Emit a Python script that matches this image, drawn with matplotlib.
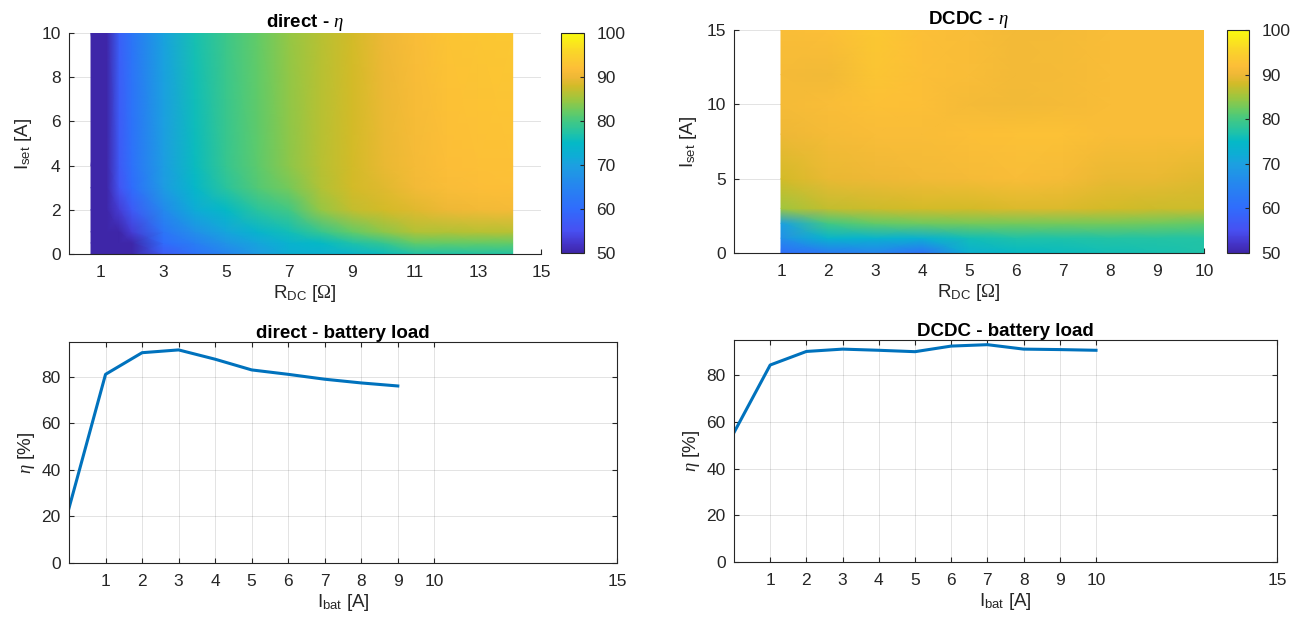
import numpy as np
import matplotlib
matplotlib.use("Agg")
import matplotlib.pyplot as plt
from matplotlib.colors import LinearSegmentedColormap

plt.rcParams['font.family'] = ['Liberation Sans', 'DejaVu Sans']
plt.rcParams['mathtext.fontset'] = 'custom'
plt.rcParams['mathtext.rm'] = 'Liberation Serif'
plt.rcParams['mathtext.it'] = 'Liberation Serif:italic'
plt.rcParams['mathtext.sf'] = 'Liberation Sans'
plt.rcParams['mathtext.bf'] = 'Liberation Sans:bold'

# ---------------- data ----------------
# direct - eta map
R_direct = [0.7, 1.2, 1.6, 2, 3, 4, 5, 6, 7, 8, 9, 10, 11, 12, 13, 14.1]
I_direct = [0, 0.5, 1, 2, 3, 4, 10]
eta_direct = [
    [45, 45, 47, 49, 57, 61, 65, 69, 72.5, 73, 74, 75.5, 77, 77, 77.5, 77.5],
    [45, 45.5, 48, 50, 60, 64, 68, 71, 73.5, 75, 77, 79, 82, 82, 82, 82],
    [45, 46, 50, 53, 62, 67, 71, 74, 76, 79, 82, 84, 86, 86, 86.5, 86.5],
    [45, 47, 53, 57, 66, 72, 75, 78, 80, 84.5, 87, 88, 89, 90, 90.5, 91],
    [45, 48, 56, 60, 69, 74.5, 78, 81, 83, 86, 88, 89, 90.5, 91.5, 91.8, 92],
    [45, 48.5, 57, 61, 69.5, 75.5, 79, 81.5, 84, 86.5, 88, 89.5, 91, 91.8, 92.3, 92.5],
    [45, 49, 58, 62, 70.5, 76.5, 79.5, 82, 84.5, 86.5, 88, 90, 91.5, 92.8, 93.3, 93.5],
]

# DCDC - eta map
R_dcdc = [1, 2, 3, 4, 5, 6, 7, 8, 9, 10]
I_dcdc = [0, 1, 2, 3, 5, 8, 10, 12, 15]
eta_dcdc = [
    [60, 63, 65, 61, 73, 75, 75.5, 76, 76.5, 77],
    [67, 74, 73.5, 73, 76, 77, 77, 77.5, 77.5, 77.5],
    [70, 80, 82, 82.5, 83, 83, 83, 83, 82.5, 82],
    [85, 87, 87.5, 88, 88, 88.5, 88.5, 88, 87.5, 87.5],
    [88, 89.5, 90, 90.5, 91, 91.5, 91, 89.5, 89.5, 89],
    [90, 91, 91.5, 91.5, 92, 92.5, 92.5, 91.5, 91.5, 91.5],
    [91, 91.5, 92.5, 92, 91, 90.5, 91, 91.5, 91.5, 91.5],
    [91, 90.5, 93, 92, 91.5, 90.8, 91, 91.5, 91.5, 91.5],
    [91.5, 92, 93.5, 92, 91.5, 90.8, 91, 91.5, 91.5, 91.5],
]

# battery load curves
I_bat_direct = [0, 1, 2, 3, 4, 5, 6, 7, 8, 9]
eta_bat_direct = [23.6, 81.1, 90.4, 91.6, 87.6, 83.0, 81.1, 79.0, 77.4, 76.1]
I_bat_dcdc = [0, 1, 2, 3, 4, 5, 6, 7, 8, 9, 10]
eta_bat_dcdc = [55.4, 84.3, 90.1, 91.1, 90.6, 90.0, 92.4, 93.0, 91.1, 90.9, 90.6]

# tick labels
xt_direct_map = [1, 3, 5, 7, 9, 11, 13, 15]
yt_direct_map = [0, 2, 4, 6, 8, 10]
xt_dcdc_map = [1, 2, 3, 4, 5, 6, 7, 8, 9, 10]
yt_dcdc_map = [0, 5, 10, 15]
xt_bat = [1, 2, 3, 4, 5, 6, 7, 8, 9, 10, 15]
yt_bat = [0, 20, 40, 60, 80]
cb_ticks = [50, 60, 70, 80, 90, 100]

# ---------------- colormap (parula-like) ----------------
parula_anchor_vals = [50, 52, 55, 60, 65, 70, 72, 75, 77, 80, 82, 85, 88, 90, 92, 96, 100]
parula_anchor_rgb = [(62, 38, 168), (68, 52, 200), (71, 80, 242), (48, 108, 252), (38, 132, 240),
                     (28, 160, 224), (14, 172, 214), (4, 185, 198), (30, 194, 170), (66, 200, 132),
                     (100, 203, 102), (158, 198, 62), (210, 187, 40), (238, 184, 54), (252, 190, 56),
                     (250, 215, 40), (249, 251, 14)]
parula = LinearSegmentedColormap.from_list(
    'parula', [((v - 50) / 50.0, tuple(c / 255.0 for c in rgb))
               for v, rgb in zip(parula_anchor_vals, parula_anchor_rgb)], N=256)

TXT = '#262626'
LINE = '#0072BD'
W, H = 1305, 627
TICK_FS = 12.5
LAB_FS = 13.5
TIT_FS = 13.5

fig = plt.figure(figsize=(W / 100, H / 100), dpi=100)


def rect(x0, y0, x1, y1):
    return [x0 / W, 1 - y1 / H, (x1 - x0) / W, (y1 - y0) / H]


def style_axes(ax, box):
    for s in ax.spines.values():
        s.set_color(TXT)
        s.set_linewidth(0.8)
    if not box:
        ax.spines['top'].set_visible(False)
        ax.spines['right'].set_visible(False)
    ax.tick_params(direction='in', length=3.5, width=0.8, colors=TXT, labelsize=TICK_FS,
                   top=box, right=box)
    ax.tick_params(axis='x', pad=8)
    ax.tick_params(axis='y', pad=6)
    ax.grid(True, color=TXT, alpha=0.15, linewidth=0.6)
    ax.set_axisbelow(True)


def colorbar(mesh, r):
    cax = fig.add_axes(r)
    cb = fig.colorbar(mesh, cax=cax, ticks=cb_ticks)
    cb.outline.set_edgecolor(TXT)
    cb.outline.set_linewidth(0.8)
    cax.tick_params(direction='in', length=3, width=0.8, colors=TXT, labelsize=TICK_FS, pad=9)
    return cb


# ---- direct - eta ----
ax1 = fig.add_axes(rect(69, 33, 541, 254))
Xd, Yd = np.meshgrid(R_direct, I_direct)
m1 = ax1.pcolormesh(Xd, Yd, np.array(eta_direct), shading='gouraud', cmap=parula, vmin=50, vmax=100)
ax1.set_xlim(0, 15)
ax1.set_ylim(0, 10)
ax1.set_xticks(xt_direct_map)
ax1.set_yticks(yt_direct_map)
style_axes(ax1, box=False)
ax1.set_title(r'direct - $\eta$', fontsize=TIT_FS, fontweight='bold', pad=4)
ax1.set_xlabel(r'R$_{\mathsf{DC}}$ [$\Omega$]', fontsize=LAB_FS, color=TXT, labelpad=2)
ax1.set_ylabel(r'I$_{\mathsf{set}}$ [A]', fontsize=LAB_FS, color=TXT, labelpad=5)
colorbar(m1, rect(561, 33, 584, 253))

# ---- DCDC - eta ----
ax2 = fig.add_axes(rect(734, 30, 1204, 253))
Xc, Yc = np.meshgrid(R_dcdc, I_dcdc)
m2 = ax2.pcolormesh(Xc, Yc, np.array(eta_dcdc), shading='gouraud', cmap=parula, vmin=50, vmax=100)
ax2.set_xlim(0, 10)
ax2.set_ylim(0, 15)
ax2.set_xticks(xt_dcdc_map)
ax2.set_yticks(yt_dcdc_map)
style_axes(ax2, box=False)
ax2.set_title(r'DCDC - $\eta$', fontsize=TIT_FS, fontweight='bold', pad=4)
ax2.set_xlabel(r'R$_{\mathsf{DC}}$ [$\Omega$]', fontsize=LAB_FS, color=TXT, labelpad=2)
ax2.set_ylabel(r'I$_{\mathsf{set}}$ [A]', fontsize=LAB_FS, color=TXT, labelpad=5)
colorbar(m2, rect(1227, 30, 1249, 253))

# ---- direct - battery load ----
ax3 = fig.add_axes(rect(69, 342, 617, 563))
ax3.plot(I_bat_direct, eta_bat_direct, color=LINE, linewidth=2.2)
ax3.set_xlim(0, 15)
ax3.set_ylim(0, 95)
ax3.set_xticks(xt_bat)
ax3.set_yticks(yt_bat)
style_axes(ax3, box=True)
ax3.set_title('direct - battery load', fontsize=TIT_FS, fontweight='bold', pad=3)
ax3.set_xlabel(r'I$_{\mathsf{bat}}$ [A]', fontsize=LAB_FS, color=TXT, labelpad=2)
ax3.set_ylabel(r'$\eta$ [%]', fontsize=LAB_FS, color=TXT, labelpad=3)

# ---- DCDC - battery load ----
ax4 = fig.add_axes(rect(734, 340, 1277, 562))
ax4.plot(I_bat_dcdc, eta_bat_dcdc, color=LINE, linewidth=2.2)
ax4.set_xlim(0, 15)
ax4.set_ylim(0, 95)
ax4.set_xticks(xt_bat)
ax4.set_yticks(yt_bat)
style_axes(ax4, box=True)
ax4.set_title('DCDC - battery load', fontsize=TIT_FS, fontweight='bold', pad=3)
ax4.set_xlabel(r'I$_{\mathsf{bat}}$ [A]', fontsize=LAB_FS, color=TXT, labelpad=2)
ax4.set_ylabel(r'$\eta$ [%]', fontsize=LAB_FS, color=TXT, labelpad=3)

fig.savefig('out.png', dpi=100)
